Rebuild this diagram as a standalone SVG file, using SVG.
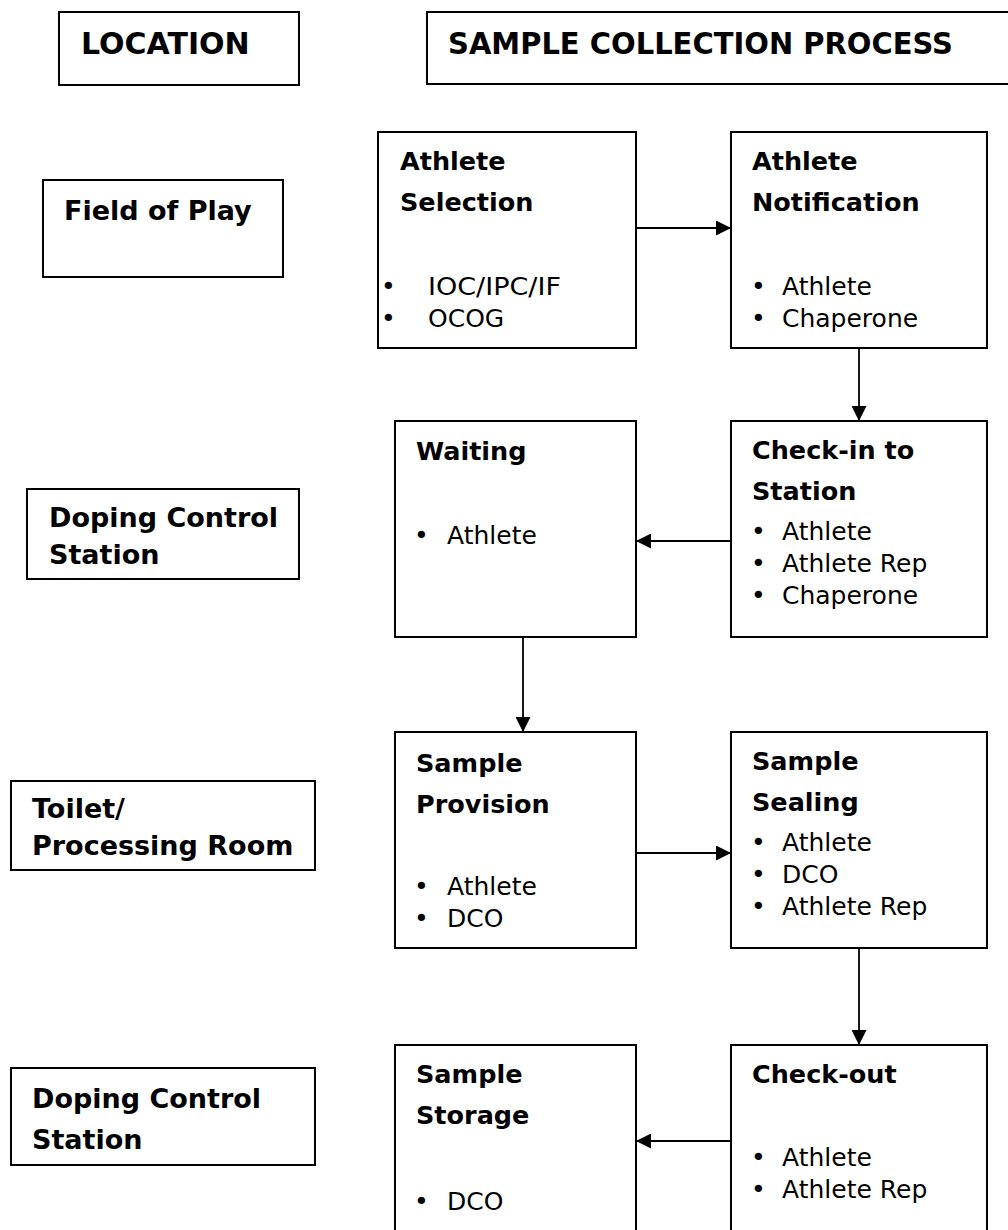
<svg xmlns="http://www.w3.org/2000/svg" width="1008" height="1230" viewBox="0 0 1008 1230">
<defs>
<style>
.box{fill:#fff;stroke:#000;stroke-width:2}
.hd{font-family:"DejaVu Sans",Verdana,sans-serif;font-weight:bold;font-size:30px;fill:#000}
.loc{font-family:"DejaVu Sans",Verdana,sans-serif;font-weight:bold;font-size:27px;fill:#000}
.ttl{font-family:"DejaVu Sans",Verdana,sans-serif;font-weight:bold;font-size:25.5px;fill:#000}
.itm{font-family:"DejaVu Sans",Verdana,sans-serif;font-size:25px;fill:#000}
.con{fill:none;stroke:#000;stroke-width:1.8}
</style>
<marker id="ah" markerUnits="userSpaceOnUse" markerWidth="15" markerHeight="15" refX="15" refY="7.5" orient="auto">
<path d="M0,0 L15,7.5 L0,15 z" fill="#000"/>
</marker>
</defs>
<rect width="1008" height="1230" fill="#fff"/>

<g id="hdr-location">
<rect class="box" x="59" y="12" width="240" height="73"/>
<text class="hd" x="81" y="54">LOCATION</text>
</g>
<g id="hdr-process">
<rect class="box" x="427" y="12" width="600" height="72"/>
<text class="hd" x="448" y="54" textLength="505" lengthAdjust="spacingAndGlyphs">SAMPLE COLLECTION PROCESS</text>
</g>

<g id="loc-field">
<rect class="box" x="43" y="180" width="240" height="97"/>
<text class="loc" x="64" y="220">Field of Play</text>
</g>
<g id="loc-dcs1">
<rect class="box" x="27" y="489" width="272" height="90"/>
<text class="loc" x="49" y="527">Doping Control</text>
<text class="loc" x="49" y="564">Station</text>
</g>
<g id="loc-toilet">
<rect class="box" x="11" y="781" width="304" height="89"/>
<text class="loc" x="32" y="818">Toilet/</text>
<text class="loc" x="32" y="855">Processing Room</text>
</g>
<g id="loc-dcs2">
<rect class="box" x="11" y="1068" width="304" height="97"/>
<text class="loc" x="32" y="1108">Doping Control</text>
<text class="loc" x="32" y="1149">Station</text>
</g>

<g id="n-selection">
<rect class="box" x="378" y="132" width="258" height="216"/>
<text class="ttl" x="400" y="170">Athlete</text>
<text class="ttl" x="400" y="211">Selection</text>
<text class="itm" y="295"><tspan x="381">•</tspan><tspan x="428" textLength="133" lengthAdjust="spacingAndGlyphs">IOC/IPC/IF</tspan></text>
<text class="itm" y="327"><tspan x="381">•</tspan><tspan x="428">OCOG</tspan></text>
</g>
<g id="n-notification">
<rect class="box" x="731" y="132" width="256" height="216"/>
<text class="ttl" x="752" y="170">Athlete</text>
<text class="ttl" x="752" y="211">Notification</text>
<text class="itm" y="295"><tspan x="751">•</tspan><tspan x="782">Athlete</tspan></text>
<text class="itm" y="327"><tspan x="751">•</tspan><tspan x="782">Chaperone</tspan></text>
</g>
<g id="n-waiting">
<rect class="box" x="395" y="421" width="241" height="216"/>
<text class="ttl" x="416" y="460">Waiting</text>
<text class="itm" y="544"><tspan x="414">•</tspan><tspan x="447">Athlete</tspan></text>
</g>
<g id="n-checkin">
<rect class="box" x="731" y="421" width="256" height="216"/>
<text class="ttl" x="752" y="459">Check-in to</text>
<text class="ttl" x="752" y="500">Station</text>
<text class="itm" y="540"><tspan x="751">•</tspan><tspan x="782">Athlete</tspan></text>
<text class="itm" y="572"><tspan x="751">•</tspan><tspan x="782">Athlete Rep</tspan></text>
<text class="itm" y="604"><tspan x="751">•</tspan><tspan x="782">Chaperone</tspan></text>
</g>
<g id="n-provision">
<rect class="box" x="395" y="732" width="241" height="216"/>
<text class="ttl" x="416" y="772">Sample</text>
<text class="ttl" x="416" y="813">Provision</text>
<text class="itm" y="895"><tspan x="414">•</tspan><tspan x="447">Athlete</tspan></text>
<text class="itm" y="927"><tspan x="414">•</tspan><tspan x="447">DCO</tspan></text>
</g>
<g id="n-sealing">
<rect class="box" x="731" y="732" width="256" height="216"/>
<text class="ttl" x="752" y="770">Sample</text>
<text class="ttl" x="752" y="811">Sealing</text>
<text class="itm" y="851"><tspan x="751">•</tspan><tspan x="782">Athlete</tspan></text>
<text class="itm" y="883"><tspan x="751">•</tspan><tspan x="782">DCO</tspan></text>
<text class="itm" y="915"><tspan x="751">•</tspan><tspan x="782">Athlete Rep</tspan></text>
</g>
<g id="n-storage">
<rect class="box" x="395" y="1045" width="241" height="220"/>
<text class="ttl" x="416" y="1083">Sample</text>
<text class="ttl" x="416" y="1124">Storage</text>
<text class="itm" y="1210"><tspan x="414">•</tspan><tspan x="447">DCO</tspan></text>
</g>
<g id="n-checkout">
<rect class="box" x="731" y="1045" width="256" height="220"/>
<text class="ttl" x="752" y="1083">Check-out</text>
<text class="itm" y="1166"><tspan x="751">•</tspan><tspan x="782">Athlete</tspan></text>
<text class="itm" y="1198"><tspan x="751">•</tspan><tspan x="782">Athlete Rep</tspan></text>
</g>

<g id="connectors">
<line class="con" x1="636" y1="228" x2="731" y2="228" marker-end="url(#ah)"/>
<line class="con" x1="859" y1="348" x2="859" y2="421" marker-end="url(#ah)"/>
<line class="con" x1="731" y1="541" x2="636" y2="541" marker-end="url(#ah)"/>
<line class="con" x1="523" y1="637" x2="523" y2="732" marker-end="url(#ah)"/>
<line class="con" x1="636" y1="853" x2="731" y2="853" marker-end="url(#ah)"/>
<line class="con" x1="859" y1="948" x2="859" y2="1045" marker-end="url(#ah)"/>
<line class="con" x1="731" y1="1141" x2="636" y2="1141" marker-end="url(#ah)"/>
</g>
</svg>
